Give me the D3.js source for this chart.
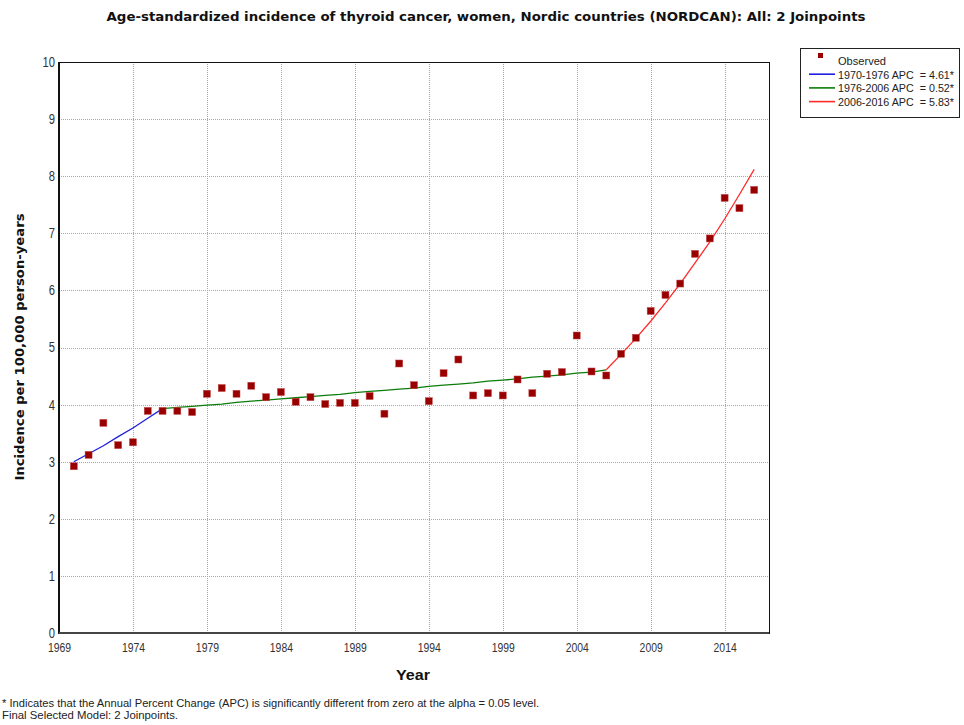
<!DOCTYPE html>
<html>
<head>
<meta charset="utf-8">
<script src="https://cdn.jsdelivr.net/npm/d3@7"></script>
<style>
  html, body { margin: 0; padding: 0; background: #fff; }
  svg { display: block; }
  .pre { white-space: pre; }
</style>
</head>
<body>
<svg id="chart" width="964" height="725"></svg>
<script>
// Observed age-standardized incidence (per 100,000), women, 1970-2016
const years = d3.range(1970, 2017);
const observed = [
  2.92, 3.12, 3.68, 3.29, 3.34, 3.89, 3.89, 3.89, 3.87, 4.19,
  4.29, 4.19, 4.33, 4.13, 4.22, 4.05, 4.13, 4.01, 4.03, 4.03,
  4.15, 3.84, 4.72, 4.34, 4.06, 4.55, 4.79, 4.16, 4.20, 4.16,
  4.44, 4.20, 4.54, 4.57, 5.21, 4.58, 4.51, 4.89, 5.17, 5.64,
  5.92, 6.12, 6.64, 6.91, 7.62, 7.44, 7.76
];
// Joinpoint model fitted values, one per year
const fitted = [
  3.00, 3.14, 3.28, 3.44, 3.59, 3.76, 3.93, 3.95, 3.97, 3.99,
  4.01, 4.04, 4.06, 4.08, 4.10, 4.12, 4.14, 4.16, 4.18, 4.21,
  4.23, 4.25, 4.27, 4.29, 4.32, 4.34, 4.36, 4.38, 4.41, 4.43,
  4.45, 4.48, 4.50, 4.52, 4.55, 4.57, 4.61, 4.88, 5.16, 5.46,
  5.78, 6.12, 6.48, 6.85, 7.25, 7.68, 8.12
];
// Model segments (start year, end year) and legend text
const segments = [
  { from: 1970, to: 1976, label: "1970-1976 APC  = 4.61*", color: "#1f1fe0" },
  { from: 1976, to: 2006, label: "1976-2006 APC  = 0.52*", color: "#0b7d0b" },
  { from: 2006, to: 2016, label: "2006-2016 APC  = 5.83*", color: "#ff2a2a" }
];
const xTicks = [1969, 1974, 1979, 1984, 1989, 1994, 1999, 2004, 2009, 2014];
const yTicks = [0, 1, 2, 3, 4, 5, 6, 7, 8, 9, 10];

const svg = d3.select("#chart");
const x = d3.scaleLinear().domain([1969, 2017]).range([59, 769]);
const y = d3.scaleLinear().domain([0, 10]).range([633, 62]);

// squeeze text horizontally to the narrow face used by the chart
function squeeze(sel, k) {
  sel.each(function () {
    const w = this.getComputedTextLength();
    d3.select(this).attr("textLength", w * k).attr("lengthAdjust", "spacingAndGlyphs");
  });
}

// Grid
const grid = svg.append("g").attr("stroke", "#a8a8a8").attr("stroke-width", 1)
  .attr("stroke-dasharray", "1,1").attr("shape-rendering", "crispEdges");
grid.selectAll("line.h").data(yTicks.filter(d => d > 0 && d < 10)).join("line")
  .attr("x1", x(1969)).attr("x2", x(2017))
  .attr("y1", d => Math.round(y(d)) + 0.5).attr("y2", d => Math.round(y(d)) + 0.5);
grid.selectAll("line.v").data(xTicks.filter(d => d > 1969)).join("line")
  .attr("y1", y(10)).attr("y2", y(0))
  .attr("x1", d => Math.round(x(d)) + 0.5).attr("x2", d => Math.round(x(d)) + 0.5);

// Frame
svg.append("rect").attr("x", x(1969)).attr("y", y(10))
  .attr("width", x(2017) - x(1969)).attr("height", y(0) - y(10))
  .attr("fill", "none").attr("stroke", "#111").attr("stroke-width", 1)
  .attr("shape-rendering", "crispEdges");
svg.append("line").attr("x1", x(1969)).attr("x2", x(1969)).attr("y1", y(10)).attr("y2", y(0) + 1)
  .attr("stroke", "#111").attr("stroke-width", 2);
svg.append("line").attr("x1", x(1969)).attr("x2", x(2017)).attr("y1", y(0)).attr("y2", y(0))
  .attr("stroke", "#444").attr("stroke-width", 2);

// Axes (labels only, no tick marks)
const xAxis = d3.axisBottom(x).tickValues(xTicks).tickFormat(d3.format("d")).tickSize(0).tickPadding(10);
const gx = svg.append("g").attr("transform", `translate(0,${y(0)})`).call(xAxis);
gx.select(".domain").remove();
gx.selectAll("text").attr("font-family", "Liberation Sans, Arial, sans-serif")
  .attr("font-size", 13).attr("fill", "#333").call(squeeze, 0.8);

const yAxis = d3.axisLeft(y).tickValues(yTicks).tickFormat(d3.format("d")).tickSize(0).tickPadding(4);
const gy = svg.append("g").attr("transform", `translate(${x(1969)},0)`).call(yAxis);
gy.select(".domain").remove();
gy.selectAll("text").attr("font-family", "Liberation Sans, Arial, sans-serif")
  .attr("font-size", 14).attr("fill", "#333").call(squeeze, 0.8);

// Fitted model lines
const line = d3.line().x(d => x(d.year)).y(d => y(d.value));
const fitPts = years.map((yr, i) => ({ year: yr, value: fitted[i] }));
segments.forEach(s => {
  svg.append("path")
    .datum(fitPts.filter(p => p.year >= s.from && p.year <= s.to))
    .attr("d", line).attr("fill", "none")
    .attr("stroke", s.color).attr("stroke-width", 1.3);
});

// Observed points
const sz = 7;
svg.append("g").selectAll("rect").data(years.map((yr, i) => ({ year: yr, value: observed[i] })))
  .join("rect")
  .attr("x", d => x(d.year) - sz / 2).attr("y", d => y(d.value) - sz / 2)
  .attr("width", sz).attr("height", sz)
  .attr("fill", "#980000").attr("stroke", "#c44a4a").attr("stroke-width", 0.5);

// Title
svg.append("text").attr("x", 486).attr("y", 21).attr("text-anchor", "middle")
  .attr("font-family", "DejaVu Sans, Verdana, sans-serif").attr("font-weight", "bold")
  .attr("font-size", 12.5).attr("fill", "#111")
  .attr("textLength", 759).attr("lengthAdjust", "spacingAndGlyphs")
  .text("Age-standardized incidence of thyroid cancer, women, Nordic countries (NORDCAN): All: 2 Joinpoints");

// Axis titles
svg.append("text").attr("x", 413).attr("y", 680).attr("text-anchor", "middle")
  .attr("font-family", "Liberation Sans, Arial, sans-serif").attr("font-weight", "bold")
  .attr("font-size", 15).attr("fill", "#111")
  .attr("textLength", 34).attr("lengthAdjust", "spacingAndGlyphs").text("Year");
svg.append("text").attr("transform", "translate(24,347) rotate(-90)").attr("text-anchor", "middle")
  .attr("font-family", "DejaVu Sans, Verdana, sans-serif").attr("font-weight", "bold")
  .attr("font-size", 12.5).attr("fill", "#111")
  .attr("textLength", 267).attr("lengthAdjust", "spacingAndGlyphs")
  .text("Incidence per 100,000 person-years");

// Legend
const lg = svg.append("g");
lg.append("rect").attr("x", 800.5).attr("y", 48.5).attr("width", 159).attr("height", 69)
  .attr("fill", "#fff").attr("stroke", "#222").attr("stroke-width", 1);
lg.append("rect").attr("x", 818).attr("y", 53).attr("width", 5).attr("height", 5).attr("fill", "#980000");
const legendRows = [{ label: "Observed", color: null, w: 48 }]
  .concat(segments.map(s => Object.assign({ w: 116 }, s)));
legendRows.forEach((r, i) => {
  const cy = 60.5 + i * 13.7;
  if (r.color) {
    lg.append("line").attr("x1", 809).attr("x2", 835).attr("y1", cy).attr("y2", cy)
      .attr("stroke", r.color).attr("stroke-width", 1.6);
  }
  lg.append("text").attr("class", "pre").attr("x", 838).attr("y", cy + 4.3)
    .attr("font-family", "Liberation Sans, Arial, sans-serif").attr("font-size", 11.5)
    .attr("fill", "#222")
    .attr("textLength", r.w).attr("lengthAdjust", "spacingAndGlyphs")
    .text(r.label);
});

// Footnotes
const notes = [
  { text: "* Indicates that the Annual Percent Change (APC) is significantly different from zero at the alpha = 0.05 level.", w: 537 },
  { text: "Final Selected Model: 2 Joinpoints.", w: 176 }
];
svg.append("g").selectAll("text").data(notes).join("text")
  .attr("x", 2).attr("y", (d, i) => 707 + i * 12)
  .attr("font-family", "Liberation Sans, Arial, sans-serif").attr("font-size", 10.5)
  .attr("fill", "#222")
  .attr("textLength", d => d.w).attr("lengthAdjust", "spacingAndGlyphs")
  .text(d => d.text);
</script>
</body>
</html>
